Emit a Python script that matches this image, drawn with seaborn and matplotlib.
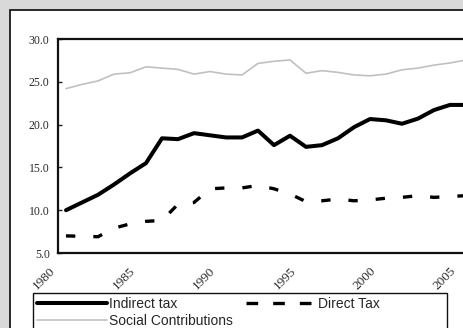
import matplotlib
matplotlib.use("Agg")
import matplotlib.pyplot as plt
import matplotlib.transforms as mtransforms
from matplotlib.patches import Rectangle
from matplotlib.lines import Line2D
import seaborn as sns
import pandas as pd

years = list(range(1980, 2006))
indirect_tax = [10.0, 10.9, 11.8, 13.0, 14.3, 15.5, 18.4, 18.3, 19.0, 18.75,
                18.5, 18.5, 19.3, 17.6, 18.7, 17.4, 17.6, 18.4, 19.7, 20.65,
                20.5, 20.1, 20.7, 21.7, 22.3, 22.3]
direct_tax = [7.0, 6.95, 6.9, 7.9, 8.4, 8.7, 8.8, 10.7, 10.9, 12.5,
              12.6, 12.6, 12.9, 12.5, 11.9, 11.0, 11.1, 11.3, 11.1, 11.2,
              11.4, 11.5, 11.7, 11.5, 11.6, 11.7]
social_contrib = [24.2, 24.7, 25.1, 25.9, 26.05, 26.75, 26.6, 26.45, 25.9, 26.2,
                  25.9, 25.8, 27.15, 27.4, 27.55, 26.0, 26.3, 26.1, 25.8, 25.7,
                  25.9, 26.4, 26.6, 26.95, 27.2, 27.55]
series_names = ["Indirect tax", "Direct Tax", "Social Contributions"]
year_ticks = [1980, 1985, 1990, 1995, 2000, 2005]
value_ticks = [5, 10, 15, 20, 25, 30]

df = pd.DataFrame({"year": years,
                   series_names[0]: indirect_tax,
                   series_names[1]: direct_tax,
                   series_names[2]: social_contrib})

sns.set_theme(style="white")
plt.rcParams["font.family"] = ["Liberation Serif", "DejaVu Serif"]

W, H = 464, 328
fig = plt.figure(figsize=(W / 100, H / 100), dpi=100)
fig.patch.set_facecolor("#d9d9d9")


def px_rect(x0, y0, x1, y1, **kw):
    """Rectangle given in pixel coordinates measured from the top-left corner."""
    return Rectangle((x0 / W, 1 - y1 / H), (x1 - x0) / W, (y1 - y0) / H,
                     transform=fig.transFigure, **kw)


# white chart panel with dark frame
fig.patches.append(px_rect(10, 10, W + 40, H + 40, facecolor="white",
                           edgecolor="#1a1a1a", linewidth=1.3, zorder=-10))

ax_left, ax_bottom, ax_top = 58, 253, 39
px_per_year = 16
ax_right = ax_left + 26 * px_per_year
ax = fig.add_axes([ax_left / W, 1 - ax_bottom / H,
                   (ax_right - ax_left) / W, (ax_bottom - ax_top) / H])
ax.set_facecolor("white")

sns.lineplot(data=df, x="year", y=series_names[2], ax=ax, color="#c0c0c0",
             linewidth=1.2)
sns.lineplot(data=df, x="year", y=series_names[1], ax=ax, color="black",
             linewidth=2.4)
ax.lines[-1].set_linestyle((0, (2.8, 5.4)))
ax.lines[-1].set_dash_capstyle("butt")
sns.lineplot(data=df, x="year", y=series_names[0], ax=ax, color="black",
             linewidth=2.9)

ax.set_xlim(1979.5, 2005.5)
ax.set_ylim(5, 30)
ax.set_xlabel("")
ax.set_ylabel("")
ax.set_yticks(value_ticks)
ax.set_yticklabels([f"{v:.1f}" for v in value_ticks], fontsize=8.5, color="#2a2a2a")
ax.tick_params(axis="y", direction="in", length=3, width=1, color="#222",
               left=True, pad=6)

# year labels: slanted, hanging below and left of each category position
ax.set_xticks(year_ticks)
ax.set_xticklabels([])
ax.tick_params(axis="x", length=0)
offset = mtransforms.ScaledTranslation(-8 / 100, -12 / 100, fig.dpi_scale_trans)
for y in year_ticks:
    ax.text(y, 0, str(y), transform=ax.get_xaxis_transform() + offset,
            rotation=45, ha="right", va="top", fontsize=9.5, color="#2a2a2a",
            clip_on=False)

for side in ["left", "top", "bottom"]:
    ax.spines[side].set_visible(True)
    ax.spines[side].set_color("#111")
    ax.spines[side].set_linewidth(1.6)
ax.spines["right"].set_visible(False)
ax.grid(False)

# legend box
fig.patches.append(px_rect(33, 293, 447, H + 20, facecolor="white",
                           edgecolor="#111", linewidth=1.0, zorder=1))

handles = [
    Line2D([], [], color="black", linewidth=2.9),
    Line2D([], [], color="#c0c0c0", linewidth=1.2),
    Line2D([], [], color="black", linewidth=2.4, linestyle=(0, (3.5, 4.5))),
]
labels = [series_names[0], series_names[2], series_names[1]]
leg = fig.legend(handles, labels, loc="upper left",
                 bbox_to_anchor=(33 / W, 1 - 293 / H), bbox_transform=fig.transFigure,
                 ncol=2, frameon=False, borderaxespad=0,
                 prop={"family": ["Liberation Sans", "DejaVu Sans"], "size": 10},
                 handlelength=5.0, handletextpad=0.2, columnspacing=0.9,
                 labelspacing=0.2, borderpad=0.3)
leg.set_zorder(2)

fig.savefig("out.png", dpi=100, facecolor=fig.get_facecolor())
